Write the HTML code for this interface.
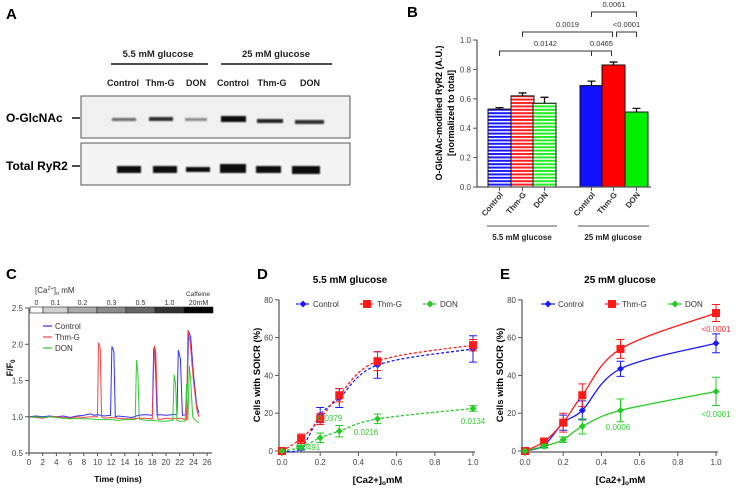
<!DOCTYPE html>
<html><head><meta charset="utf-8"><style>
html,body{margin:0;padding:0;background:#fff;}
svg{display:block;font-family:"Liberation Sans",sans-serif;}
</style></head><body>
<svg id="fig" width="744" height="488" viewBox="0 0 744 488" xmlns="http://www.w3.org/2000/svg">
<defs>
<pattern id="hb" width="4" height="3.4" patternUnits="userSpaceOnUse"><rect width="4" height="3.4" fill="#fff"/><rect width="4" height="2" fill="#1a1aff"/></pattern>
<pattern id="hr" width="4" height="3.4" patternUnits="userSpaceOnUse"><rect width="4" height="3.4" fill="#fff"/><rect width="4" height="2" fill="#ff2020"/></pattern>
<pattern id="hg" width="4" height="3.4" patternUnits="userSpaceOnUse"><rect width="4" height="3.4" fill="#fff"/><rect width="4" height="2" fill="#22ee22"/></pattern>
<filter id="blur"><feGaussianBlur stdDeviation="0.8"/></filter>
</defs>

<!-- Panel A -->
<g>
<text x="6" y="19" font-size="15" font-weight="bold">A</text>
<text x="158" y="57" font-size="9.5" font-weight="bold" fill="#222" text-anchor="middle">5.5 mM glucose</text>
<line x1="111" y1="64" x2="208" y2="64" stroke="#111" stroke-width="1.5"/>
<text x="276" y="57" font-size="9.5" font-weight="bold" fill="#222" text-anchor="middle">25 mM glucose</text>
<line x1="221" y1="64" x2="332" y2="64" stroke="#111" stroke-width="1.5"/>
<g font-size="9" font-weight="bold" fill="#222" text-anchor="middle">
<text x="123" y="86">Control</text>
<text x="160" y="86">Thm-G</text>
<text x="196" y="86">DON</text>
<text x="233" y="86">Control</text>
<text x="272" y="86">Thm-G</text>
<text x="310" y="86">DON</text>
</g>
<rect x="81" y="96" width="269" height="42" fill="#f0f0f0" stroke="#555" stroke-width="1"/>
<rect x="81" y="143" width="269" height="42" fill="#f4f4f4" stroke="#555" stroke-width="1"/>
<g fill="#111" filter="url(#blur)">
<rect x="112" y="118" width="24" height="3" opacity="0.6"/>
<rect x="149" y="117" width="24" height="4" opacity="0.85"/>
<rect x="185" y="118" width="22" height="3" opacity="0.45"/>
<rect x="221" y="116" width="25" height="6"/>
<rect x="257" y="119" width="26" height="4" opacity="0.9"/>
<rect x="295" y="120" width="29" height="4" opacity="0.85"/>
<rect x="117" y="166" width="24" height="7"/>
<rect x="153" y="166" width="24" height="7"/>
<rect x="186" y="167" width="24" height="5"/>
<rect x="220" y="164" width="26" height="9"/>
<rect x="256" y="166" width="25" height="7"/>
<rect x="292" y="166" width="28" height="8"/>
</g>
<text x="6" y="122" font-size="12" font-weight="bold">O-GlcNAc</text>
<line x1="72" y1="118" x2="80" y2="118" stroke="#111" stroke-width="1.5"/>
<text x="6" y="170" font-size="12" font-weight="bold">Total RyR2</text>
<line x1="72" y1="166" x2="80" y2="166" stroke="#111" stroke-width="1.5"/>
</g>

<g id="pB"></g>
<g id="pC"></g>
<g id="pD"></g>
<g id="pE"></g>
</svg>
<script>
// ---- Panel B data ----
const bCategories = ["Control","Thm-G","DON","Control","Thm-G","DON"];
const bValues = [0.53,0.62,0.57,0.69,0.83,0.51];
const bErrors = [0.01,0.02,0.04,0.03,0.02,0.025];
const bTicks = [0,0.2,0.4,0.6,0.8,1.0];
const bPvals = ["0.0142","0.0465","0.0019","<0.0001","0.0061"];
// ---- Panel C data ----
const cCtrlT = [0,1,2,3,4,5,6,7,8,9,9.5,10,11,11.9,12.1,12.4,12.6,13,14,15,16,17,18,18.2,18.4,18.7,19,20,21,21.6,21.8,22.1,22.4,23,23.3,23.6,24,24.5,24.8];
const cCtrlV = [1.0,1.01,1.0,1.01,1.0,1.01,0.99,1.01,1.02,1.04,1.02,1.03,1.01,1.02,1.97,1.9,1.0,1.01,1.0,0.99,1.02,1.03,1.02,1.95,1.9,1.02,1.03,1.02,1.03,1.03,1.92,1.8,1.02,1.03,2.18,2.1,1.6,1.15,1.05];
const cThmT = [0,1,2,3,4,5,6,7,8,9,10,10.15,10.4,10.6,11,12,13,14,15,16,17,18,18.3,18.5,18.8,19,20,21,22,23,23.2,23.5,24,24.5,24.8];
const cThmV = [1.0,0.99,0.98,1.0,1.0,0.99,0.98,1.0,0.99,1.0,1.0,2.02,1.95,1.0,0.98,0.99,0.98,0.97,0.97,0.98,0.98,0.97,1.98,1.9,0.97,0.96,0.98,0.97,0.98,0.96,2.2,2.05,1.5,1.1,1.0];
const cDonT = [0,1,2,3,4,5,6,7,8,9,10,11,12,13,14,15,15.5,15.7,15.9,16.1,17,18,19,20,21,21.2,21.4,21.6,22,22.8,23.0,23.2,23.4,23.6,23.9,24.3,24.8];
const cDonV = [0.99,1.0,0.99,1.0,0.99,0.98,0.97,0.98,0.97,0.97,0.96,0.96,0.96,0.95,0.96,0.96,0.96,1.78,1.6,0.97,0.95,0.95,0.94,0.94,0.95,1.58,1.45,0.95,0.94,0.94,1.45,0.95,1.7,1.5,1.0,0.95,0.92];
const cYTicks = [0.5,1.0,1.5,2.0,2.5];
const cXTicks = [0,2,4,6,8,10,12,14,16,18,20,22,24,26];
const cCaLabels = ["0","0.1","0.2","0.3","0.5","1.0","20mM"];
// ---- Panels D/E data ----
const caX = [0,0.1,0.2,0.3,0.5,1.0];
const dCtrl = [0,1.5,19,28,45.5,54];
const dCtrlErr = [0,1,4,5,7,7];
const dThm = [0,6.5,17,29.5,47.5,56];
const dThmErr = [0,2.5,3,3.5,5,3];
const dDon = [0,2,7,10.5,17,22.5];
const dDonErr = [0,1,2.5,3,2.5,1.5];
const eCtrl = [0,3,15,21.5,43.5,57];
const eCtrlErr = [0,1,4,5,4,5];
const eThm = [0,5,15,29.5,54,73];
const eThmErr = [0,1,5,6,5,4.5];
const eDon = [0,2.5,6,13,21.5,31.5];
const eDonErr = [0,1,1.5,4,6,7.5];
const xTicksDE = [0,0.2,0.4,0.6,0.8,1.0];
const yTicksDE = [0,20,40,60,80];

const NS="http://www.w3.org/2000/svg";
function mk(tag, attrs, parent, txt){const e=document.createElementNS(NS,tag);for(const k in attrs)e.setAttribute(k,attrs[k]);if(txt!==undefined)e.textContent=txt;parent.appendChild(e);return e;}
function smooth(pts){let d="M"+pts[0][0]+","+pts[0][1];for(let i=0;i<pts.length-1;i++){const p0=pts[Math.max(0,i-1)],p1=pts[i],p2=pts[i+1],p3=pts[Math.min(pts.length-1,i+2)];const c1=[p1[0]+(p2[0]-p0[0])/6,p1[1]+(p2[1]-p0[1])/6],c2=[p2[0]-(p3[0]-p1[0])/6,p2[1]-(p3[1]-p1[1])/6];d+=" C"+c1.join(",")+" "+c2.join(",")+" "+p2.join(",");}return d;}
const AX="#555", TK="#444";

// ===== Panel B =====
(function(){
const g=document.getElementById('pB');
const yB=v=>187-v*147;
let el=mk('text',{x:407,y:17,'font-size':15,'font-weight':'bold'},g,'B');


const barX=[488,511,533,580,602,625], bw=23;
const fills=['url(#hb)','url(#hr)','url(#hg)','#1010ff','#ff0000','#00ee00'];
bValues.forEach((v,i)=>{
 const x=barX[i];
 const e=bErrors[i];
 const eb=mk('path',{d:`M${x+bw/2},${yB(v)} V${yB(v+e)} M${x+bw/2-4},${yB(v+e)} H${x+bw/2+4}`,stroke:'#111','stroke-width':1.3,fill:'none'},g);
 
 
 const r=mk('rect',{x:x,y:yB(v),width:bw,height:yB(0)-yB(v),fill:fills[i],stroke:'#111','stroke-width':1},g);
 
 
 const lb=mk('text',{transform:`translate(${x+bw/2+4},${195}) rotate(-50)`,'font-size':8,'font-weight':'bold',fill:'#333','text-anchor':'end'},g,bCategories[i]);
 
 
});
const ax=mk('path',{d:`M477,${yB(1)} V187 H651`,stroke:AX,'stroke-width':1.2,fill:'none'},g);


bTicks.forEach(t=>{
 mk('line',{x1:473,x2:477,y1:yB(t),y2:yB(t),stroke:AX},g);
 const tl=mk('text',{x:471,y:yB(t)+3,'font-size':8,fill:TK,'text-anchor':'end'},g,t.toFixed(1));
 
 
});
[[488+bw/2],[511+bw/2],[533+bw/2],[580+bw/2],[602+bw/2],[625+bw/2]].forEach(c=>mk('line',{x1:c[0],x2:c[0],y1:187,y2:191,stroke:AX},g));
const yt=mk('text',{transform:'translate(442,113) rotate(-90)','font-size':9,'font-weight':'bold','text-anchor':'middle'},g,'O-GlcNAc-modified RyR2 (A.U.)');


const yt2=mk('text',{transform:'translate(454,113) rotate(-90)','font-size':9,'font-weight':'bold','text-anchor':'middle'},g,'[normalized to total]');


mk('line',{x1:487,x2:557,y1:226,y2:226,stroke:'#777','stroke-width':1.2},g);
mk('line',{x1:578,x2:649,y1:226,y2:226,stroke:'#777','stroke-width':1.2},g);
let gl=mk('text',{x:522,y:240,'font-size':8,'font-weight':'bold','text-anchor':'middle',fill:'#222'},g,'5.5 mM glucose');


gl=mk('text',{x:613,y:240,'font-size':8,'font-weight':'bold','text-anchor':'middle',fill:'#222'},g,'25 mM glucose');


const c=i=>barX[i]+bw/2;
const brs=[[c(0),c(3),51,bPvals[0]],[c(3),c(4)-2,51,bPvals[1]],[c(1),c(4)-1,32,bPvals[2]],[c(4)+3,c(5),32,bPvals[3]],[c(3),c(5),12,bPvals[4]]];
brs.forEach((b,i)=>{
 const br=mk('path',{d:`M${b[0]},${b[2]+5} V${b[2]} H${b[1]} V${b[2]+5}`,stroke:'#333','stroke-width':1,fill:'none'},g);
 
 
 const pt=mk('text',{x:(b[0]+b[1])/2,y:b[2]-5,'font-size':7.5,fill:'#333','text-anchor':'middle'},g,b[3]);
 
 
});
})();

// ===== Panel C =====
(function(){
const g=document.getElementById('pC');
const xC=t=>29+t*6.85, yC=v=>453-(v-0.5)*72.5;
let el=mk('text',{x:6,y:279,'font-size':15,'font-weight':'bold'},g,'C');


const segX=[30,43,68,97,126,155,184,213];
const segC=['#fff','#d0d0d0','#aaa','#8a8a8a','#666','#333','#000'];
segC.forEach((col,i)=>{
 const s=mk('rect',{x:segX[i],y:307,width:segX[i+1]-segX[i],height:6,fill:col,stroke:'#222','stroke-width':0.6},g);
 
 
 const l=mk('text',{x:(segX[i]+segX[i+1])/2,y:305,'font-size':7,fill:'#333','text-anchor':'middle'},g,cCaLabels[i]);
 
 
});
el=mk('text',{x:198,y:296,'font-size':6.5,fill:'#333','text-anchor':'middle'},g,'Caffeine');


el=mk('text',{x:35,y:293,'font-size':8,fill:'#333'},g);
el.innerHTML='[Ca<tspan dy="-3" font-size="5.5">2+</tspan><tspan dy="3">]</tspan><tspan dy="2" font-size="5.5">o</tspan><tspan dy="-2"> mM</tspan>';


const ax=mk('path',{d:`M29,${yC(2.5)} V453 H212`,stroke:AX,'stroke-width':1.2,fill:'none'},g);


cYTicks.forEach(t=>{
 mk('line',{x1:25,x2:29,y1:yC(t),y2:yC(t),stroke:AX},g);
 const tl=mk('text',{x:23,y:yC(t)+3,'font-size':8,fill:TK,'text-anchor':'end'},g,t.toFixed(1));
 
 
});
cXTicks.forEach(t=>{
 mk('line',{x1:xC(t),x2:xC(t),y1:453,y2:456,stroke:AX},g);
 const tl=mk('text',{x:xC(t),y:465,'font-size':8,fill:TK,'text-anchor':'middle'},g,String(t));
 
 
});
el=mk('text',{x:118,y:482,'font-size':8.5,'font-weight':'bold','text-anchor':'middle'},g,'Time (mins)');


el=mk('text',{transform:'translate(13,368) rotate(-90)','font-size':9,'font-weight':'bold','text-anchor':'middle'},g);
el.innerHTML='F/F<tspan dy="2" font-size="6">0</tspan>';


const series=[[cCtrlT,cCtrlV,'#3030ff','trace-control'],[cThmT,cThmV,'#ff4040','trace-thm-g'],[cDonT,cDonV,'#30cc30','trace-don']];
series.forEach(s=>{
 const d=s[0].map((t,i)=>(i?'L':'M')+xC(t).toFixed(1)+','+yC(s[1][i]).toFixed(1)).join(' ');
 const p=mk('path',{d:d,stroke:s[2],'stroke-width':1,fill:'none'},g);
 
 
});
const leg=[['Control','#3030ff'],['Thm-G','#ff4040'],['DON','#30cc30']];
leg.forEach((l,i)=>{
 mk('line',{x1:43,x2:52,y1:326+i*11,y2:326+i*11,stroke:l[1],'stroke-width':1.2},g);
 const t=mk('text',{x:55,y:329+i*11,'font-size':8,fill:'#333'},g,l[0]);
 
 
});
})();

// ===== Panels D & E =====
function doseChart(gid,x0,x1,letter,title,titleX,series,dashed,ann,legX){
 const g=document.getElementById(gid);
 const xS=v=>x0+v*(x1-x0), yS=v=>451-v*1.89;
 let el=mk('text',{x:x0-25,y:279,'font-size':15,'font-weight':'bold'},g,letter);
 
 
 el=mk('text',{x:titleX,y:283,'font-size':10,'font-weight':'bold','text-anchor':'middle'},g,title);
 
 
 const ax=mk('path',{d:`M${x0-3},${yS(80)} V${yS(0)+1} H${x1+2}`,stroke:AX,'stroke-width':1.2,fill:'none'},g);
 
 
 yTicksDE.forEach(t=>{
  mk('line',{x1:x0-7,x2:x0-3,y1:yS(t),y2:yS(t),stroke:AX},g);
  const tl=mk('text',{x:x0-9,y:yS(t)+3,'font-size':8,fill:TK,'text-anchor':'end'},g,String(t));
  
  
 });
 xTicksDE.forEach(t=>{
  mk('line',{x1:xS(t),x2:xS(t),y1:yS(0)+1,y2:yS(0)+5,stroke:AX},g);
  const tl=mk('text',{x:xS(t),y:465,'font-size':8,fill:TK,'text-anchor':'middle'},g,t.toFixed(1));
  
  
 });
 el=mk('text',{x:(x0+x1)/2,y:483,'font-size':9.5,'font-weight':'bold','text-anchor':'middle'},g);
 el.innerHTML='[Ca2+]<tspan dy="2" font-size="6.5">o</tspan><tspan dy="-2">mM</tspan>';
 
 
 el=mk('text',{transform:`translate(${x0-22},375) rotate(-90)`,'font-size':9.5,'font-weight':'bold','text-anchor':'middle'},g,'Cells with SOICR (%)');
 
 
 series.forEach((s,si)=>{
  const pts=caX.map((x,i)=>[+xS(x).toFixed(1),+yS(s.v[i]).toFixed(1)]);
  const c=mk('path',{d:smooth(pts),stroke:s.c,'stroke-width':1.3,fill:'none','stroke-dasharray':dashed?'3,2':'none'},g);
  
  
 });
 series.forEach(s=>{
  caX.forEach((x,i)=>{
   const cx=xS(x), cy=yS(s.v[i]), e=s.e[i];
   if(e>0){
    const eb=mk('path',{d:`M${cx},${yS(s.v[i]+e)} V${yS(s.v[i]-e)} M${cx-4},${yS(s.v[i]+e)} H${cx+4} M${cx-4},${yS(s.v[i]-e)} H${cx+4}`,stroke:s.c,'stroke-width':1,fill:'none'},g);
    
    
   }
   const m=s.sq?mk('rect',{x:cx-4,y:cy-4,width:8,height:8,fill:s.c},g):mk('path',{d:`M${cx},${cy-3.5} L${cx+3.5},${cy} L${cx},${cy+3.5} L${cx-3.5},${cy}Z`,fill:s.c},g);
   
   
  });
 });
 series.forEach((s,i)=>{
  const lx=legX[i];
  mk('line',{x1:lx-7,x2:lx+7,y1:304,y2:304,stroke:s.c,'stroke-width':1.2,'stroke-dasharray':dashed?'3,2':'none'},g);
  if(s.sq)mk('rect',{x:lx-4,y:300,width:8,height:8,fill:s.c},g);else mk('path',{d:`M${lx},300.5 L${lx+3.5},304 L${lx},307.5 L${lx-3.5},304Z`,fill:s.c},g);
  const t=mk('text',{x:lx+10,y:307,'font-size':8,fill:'#333'},g,s.label);
  
  
 });
 ann.forEach(a=>{
  const t=mk('text',{x:a[0],y:a[1],'font-size':8,fill:a[3],'text-anchor':'middle'},g,a[2]);
  
  
 });
}
doseChart('pD',282,473,'D','5.5 mM glucose',350,[
 {n:'control',label:'Control',v:dCtrl,e:dCtrlErr,c:'#1a1aff',sq:false},
 {n:'thm-g',label:'Thm-G',v:dThm,e:dThmErr,c:'#ff1a1a',sq:true},
 {n:'don',label:'DON',v:dDon,e:dDonErr,c:'#22cc22',sq:false}],true,
 [[308,450,'0.0491','#33cc33'],[330,421,'0.0379','#33cc33'],[366,435,'0.0216','#33cc33'],[473,424,'0.0134','#33cc33']],[303,367,430]);
doseChart('pE',525,716,'E','25 mM glucose',620,[
 {n:'control',label:'Control',v:eCtrl,e:eCtrlErr,c:'#1a1aff',sq:false},
 {n:'thm-g',label:'Thm-G',v:eThm,e:eThmErr,c:'#ff1a1a',sq:true},
 {n:'don',label:'DON',v:eDon,e:eDonErr,c:'#22cc22',sq:false}],false,
 [[716,332,'<0.0001','#ff3030'],[716,417,'<0.0001','#33cc33'],[618,430,'0.0006','#33cc33']],[548,612,675]);
</script>
</body></html>
